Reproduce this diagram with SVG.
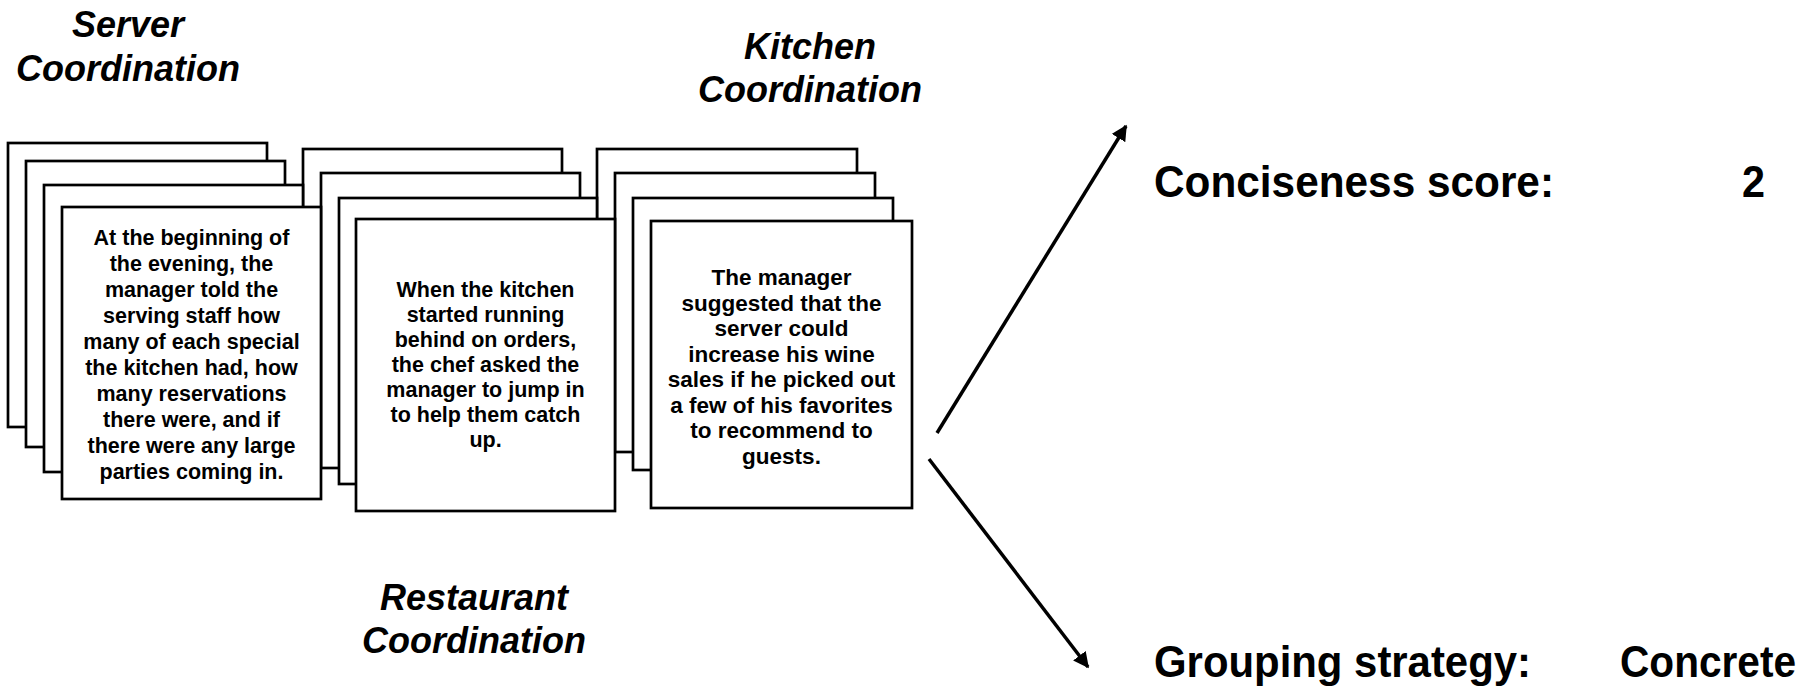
<svg xmlns="http://www.w3.org/2000/svg" width="1810" height="694" viewBox="0 0 1810 694">
<style>
.card{fill:#fff;stroke:#000;stroke-width:2.7}
.ct{font-family:"Liberation Sans",Arial,sans-serif;font-weight:bold;font-size:21.5px;text-anchor:middle;fill:#000}
.ctk{font-family:"Liberation Sans",Arial,sans-serif;font-weight:bold;font-size:22.5px;text-anchor:middle;fill:#000}
.title{font-family:"Liberation Sans",Arial,sans-serif;font-weight:bold;font-style:italic;font-size:36px;text-anchor:middle;fill:#000}
.lbl{font-family:"Liberation Sans",Arial,sans-serif;font-weight:bold;font-size:44px;fill:#000}
.conn{stroke:#000;stroke-width:3.5;fill:none}
</style>
<defs>
<marker id="ah" viewBox="0 0 10 10" refX="9" refY="5" markerWidth="4.5" markerHeight="4.5" orient="auto" markerUnits="strokeWidth">
<path d="M0,0 L10,5 L0,10 z" fill="#000"/>
</marker>
</defs>
<g id="kitchen-stack">
<rect class="card" x="597" y="149" width="260" height="287"/>
<rect class="card" x="615" y="173" width="260" height="279"/>
<rect class="card" x="633" y="198" width="260" height="272"/>
<rect class="card" x="651" y="221" width="261" height="287"/>
<text class="ctk"><tspan x="781.5" y="285">The manager</tspan><tspan x="781.5" dy="25.5">suggested that the</tspan><tspan x="781.5" dy="25.5">server could</tspan><tspan x="781.5" dy="25.5">increase his wine</tspan><tspan x="781.5" dy="25.5">sales if he picked out</tspan><tspan x="781.5" dy="25.5">a few of his favorites</tspan><tspan x="781.5" dy="25.5">to recommend to</tspan><tspan x="781.5" dy="25.5">guests.</tspan></text>
</g>
<g id="restaurant-stack">
<rect class="card" x="303" y="149" width="259" height="287"/>
<rect class="card" x="321" y="173" width="259" height="295"/>
<rect class="card" x="339" y="198" width="258" height="286"/>
<rect class="card" x="356" y="219" width="259" height="292"/>
<text class="ct"><tspan x="485.5" y="297">When the kitchen</tspan><tspan x="485.5" dy="25">started running</tspan><tspan x="485.5" dy="25">behind on orders,</tspan><tspan x="485.5" dy="25">the chef asked the</tspan><tspan x="485.5" dy="25">manager to jump in</tspan><tspan x="485.5" dy="25">to help them catch</tspan><tspan x="485.5" dy="25">up.</tspan></text>
</g>
<g id="server-stack">
<rect class="card" x="8" y="143" width="259" height="284"/>
<rect class="card" x="26" y="161" width="259" height="286"/>
<rect class="card" x="44" y="185" width="259" height="287"/>
<rect class="card" x="62" y="207" width="259" height="292"/>
<text class="ct"><tspan x="191.5" y="245">At the beginning of</tspan><tspan x="191.5" dy="26">the evening, the</tspan><tspan x="191.5" dy="26">manager told the</tspan><tspan x="191.5" dy="26">serving staff how</tspan><tspan x="191.5" dy="26">many of each special</tspan><tspan x="191.5" dy="26">the kitchen had, how</tspan><tspan x="191.5" dy="26">many reservations</tspan><tspan x="191.5" dy="26">there were, and if</tspan><tspan x="191.5" dy="26">there were any large</tspan><tspan x="191.5" dy="26">parties coming in.</tspan></text>
</g>
<g id="title-server"><text class="title"><tspan x="128" y="37">Server</tspan><tspan x="128" y="81">Coordination</tspan></text></g>
<g id="title-kitchen"><text class="title"><tspan x="810" y="59">Kitchen</tspan><tspan x="810" y="102">Coordination</tspan></text></g>
<g id="title-restaurant"><text class="title"><tspan x="474" y="610">Restaurant</tspan><tspan x="474" y="653">Coordination</tspan></text></g>
<g id="conciseness">
<text class="lbl" x="1154" y="197" textLength="400" lengthAdjust="spacingAndGlyphs">Conciseness score:</text>
<text class="lbl" x="1742" y="197" textLength="23" lengthAdjust="spacingAndGlyphs">2</text>
</g>
<g id="grouping">
<text class="lbl" x="1154" y="677" textLength="377" lengthAdjust="spacingAndGlyphs">Grouping strategy:</text>
<text class="lbl" x="1620" y="677" textLength="176" lengthAdjust="spacingAndGlyphs">Concrete</text>
</g>
<g id="connectors">
<line class="conn" x1="937" y1="433" x2="1126" y2="126" marker-end="url(#ah)"/>
<line class="conn" x1="929" y1="459" x2="1088" y2="667" marker-end="url(#ah)"/>
</g>
</svg>
